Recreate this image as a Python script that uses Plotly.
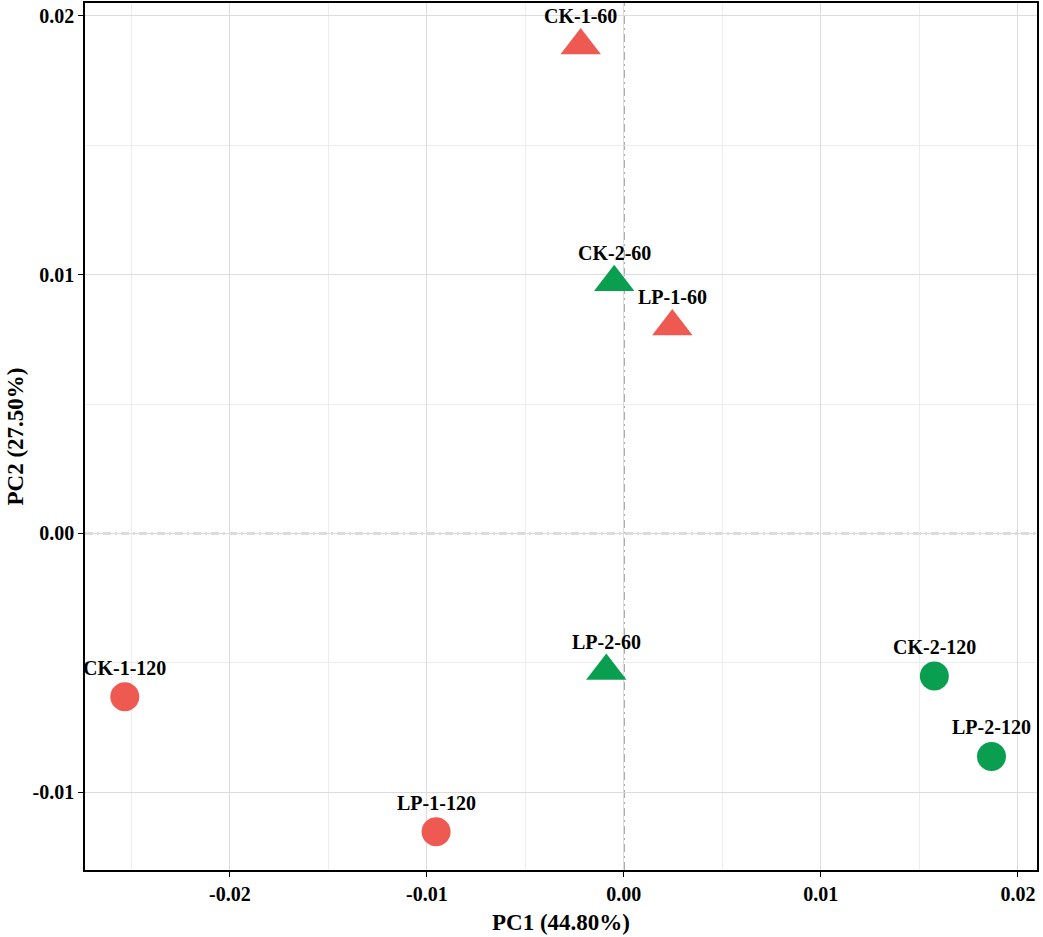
import plotly.graph_objects as go

samples = ['CK-1-60', 'CK-2-60', 'LP-1-60', 'LP-2-60',
           'CK-1-120', 'LP-1-120', 'CK-2-120', 'LP-2-120']
pc1 = [-0.00219, -0.00049, 0.00246, -0.00089,
       -0.02533, -0.00953, 0.01576, 0.01866]
pc2 = [0.01886, 0.00971, 0.00800, -0.00532,
       -0.00631, -0.01153, -0.00551, -0.00862]
group = ['1', '2', '1', '2', '1', '1', '2', '2']
days = ['60', '60', '60', '60', '120', '120', '120', '120']

x_ticks = [-0.02, -0.01, 0.00, 0.01, 0.02]
x_labels = ['-0.02', '-0.01', '0.00', '0.01', '0.02']
y_ticks = [-0.01, 0.00, 0.01, 0.02]
y_labels = ['-0.01', '0.00', '0.01', '0.02']

col = {'1': '#EE5A52', '2': '#0A9F50'}
shape = {'60': ('triangle-up', 35), '120': ('circle', 29)}
font = 'Liberation Serif, Times New Roman, serif'

fig = go.Figure()
for g in ['1', '2']:
    for d in ['60', '120']:
        idx = [i for i in range(len(samples)) if group[i] == g and days[i] == d]
        fig.add_trace(go.Scatter(
            x=[pc1[i] for i in idx], y=[pc2[i] for i in idx],
            mode='markers', showlegend=False, hoverinfo='skip',
            marker=dict(symbol=shape[d][0], size=shape[d][1], color=col[g],
                        line=dict(width=0)),
        ))

for i, s in enumerate(samples):
    fig.add_annotation(x=pc1[i], y=pc2[i], text=s, showarrow=False,
                       yshift=29, font=dict(family=font, size=20, color='black', weight='bold'))

# axis titles placed by hand so the margins stay fixed
fig.add_annotation(xref='paper', yref='paper', x=0.5, y=-0.061, text='PC1 (44.80%)',
                   showarrow=False, yanchor='middle',
                   font=dict(family=font, size=23, color='black', weight='bold'))
fig.add_annotation(xref='paper', yref='paper', x=-0.0735, y=0.5, text='PC2 (27.50%)',
                   showarrow=False, textangle=-90, xanchor='center',
                   font=dict(family=font, size=23, color='black', weight='bold'))

# dot-dash reference lines at zero
zline = dict(color='#767676', width=1.5, dash='8px,4px,2px,4px')
fig.add_shape(type='line', xref='x', yref='paper', x0=0, x1=0, y0=0, y1=1,
              line=zline, layer='below')
fig.add_shape(type='line', xref='paper', yref='y', x0=0, x1=1, y0=0, y1=0,
              line=zline, layer='below')

axis_common = dict(
    showline=True, linecolor='black', linewidth=1.7, mirror=True,
    ticks='outside', ticklen=5, tickcolor='black', tickwidth=1.2,
    showgrid=True, gridcolor='#dcdcdc', gridwidth=1, zeroline=False,
    automargin=False,
    tickfont=dict(family=font, size=20, color='black', weight='bold'),
    minor=dict(dtick=0.005, showgrid=True, gridcolor='#ededed', gridwidth=1, ticks=''),
)

fig.update_xaxes(range=[-0.02735, 0.02097], tickvals=x_ticks, ticktext=x_labels,
                 **axis_common)
fig.update_yaxes(range=[-0.01301, 0.0205], tickvals=y_ticks, ticktext=y_labels,
                 **axis_common)

fig.update_layout(
    width=1043, height=937,
    margin=dict(l=85, r=6, t=3, b=67),
    plot_bgcolor='white', paper_bgcolor='white',
)

# drop the page's default body margin so the figure sits at the window corner
fig.write_html('out.html', config={'displayModeBar': False},
               post_script="document.body.style.margin='0';")
